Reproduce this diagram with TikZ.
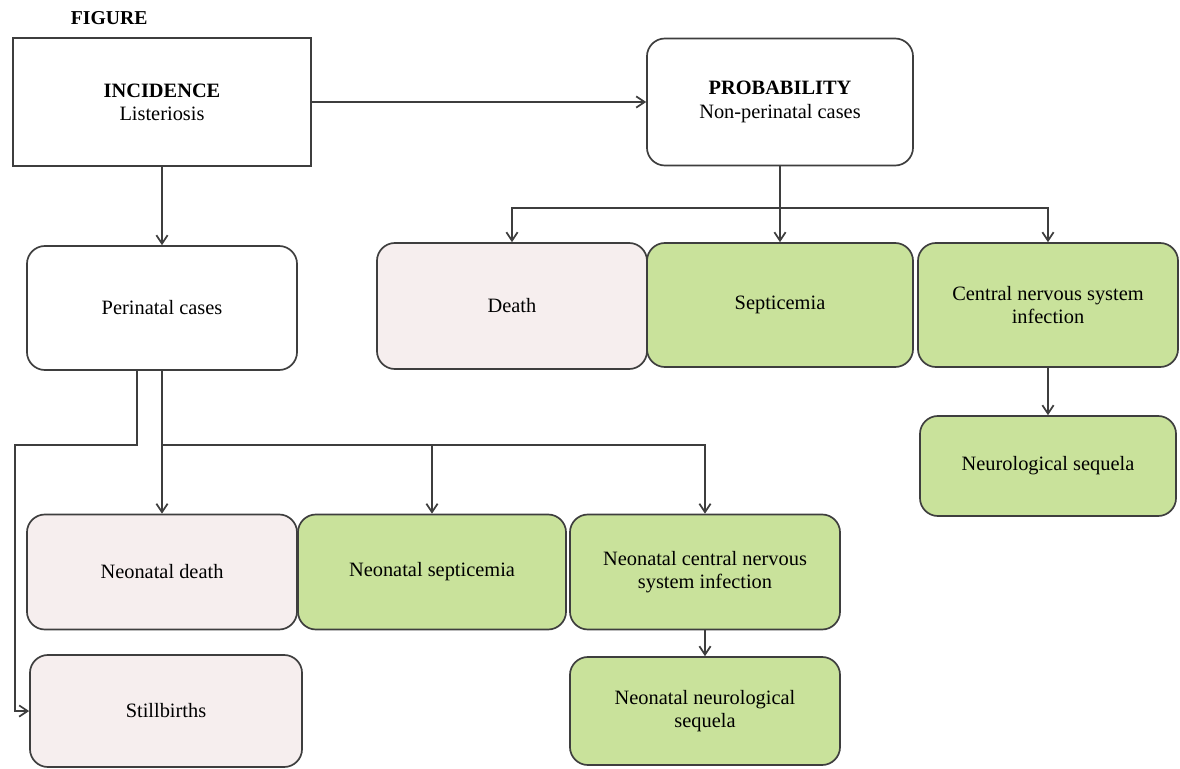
\documentclass[tikz,border=0pt]{standalone}
\usepackage{fontspec}
\setmainfont{Liberation Serif}
\usetikzlibrary{positioning,calc,arrows.meta}
\definecolor{boxline}{RGB}{62,62,62}
\definecolor{boxpink}{RGB}{246,238,238}
\definecolor{boxgreen}{RGB}{201,226,155}
\begin{document}
\begin{tikzpicture}[x=0.025cm,y=-0.025cm,
  box/.style={draw=boxline,line width=1.2pt,rounded corners=0.45cm,align=center,
    font=\fontsize{14.5}{16.5}\selectfont,inner sep=2pt},
  arr/.style={draw=boxline,line width=1.2pt,-{Straight Barb[length=6pt,width=8pt]}},
  ln/.style={draw=boxline,line width=1.2pt}]
\useasboundingbox (0,0) rectangle (1180,769);
\node[font=\fontsize{14}{16}\selectfont\bfseries,anchor=west] (fig) at (66,18) {FIGURE};
% top row
\node[box,rounded corners=0pt,minimum width=7.45cm,minimum height=3.2cm] (inc) at (162,102)
  {\textbf{INCIDENCE}\\Listeriosis};
\node[box,fill=white,minimum width=6.65cm,minimum height=3.175cm] (prob) at (780,102)
  {\textbf{PROBABILITY}\\Non-perinatal cases};
\draw[arr] (inc.east) -- (prob.west);
% non-perinatal outcomes
\node[box,fill=boxpink,minimum width=6.75cm,minimum height=3.15cm] (death) at (512,306) {Death};
\node[box,fill=boxgreen,minimum width=6.65cm,minimum height=3.1cm] (sept) at (780,305) {Septicemia};
\node[box,fill=boxgreen,minimum width=6.5cm,minimum height=3.1cm] (cns) at (1048,305)
  {Central nervous system\\infection};
\node[box,fill=boxgreen,minimum width=6.4cm,minimum height=2.5cm] (neuro) at (1048,466)
  {Neurological sequela};
\coordinate (pj) at (780,208);
\draw[arr] (prob.south) -- (sept.north);
\draw[arr] (pj) -| (death.north);
\draw[arr] (pj) -| (cns.north);
\draw[arr] (cns.south) -- (neuro.north);
% perinatal
\node[box,fill=white,minimum width=6.75cm,minimum height=3.1cm] (peri) at (162,308) {Perinatal cases};
\draw[arr] (inc.south) -- (peri.north);
\node[box,fill=boxpink,minimum width=6.75cm,minimum height=2.875cm] (ndeath) at (162,572) {Neonatal death};
\node[box,fill=boxgreen,minimum width=6.7cm,minimum height=2.875cm] (nsept) at (432,572) {Neonatal septicemia};
\node[box,fill=boxgreen,minimum width=6.75cm,minimum height=2.875cm] (ncns) at (705,572)
  {Neonatal central nervous\\system infection};
\node[box,fill=boxgreen,minimum width=6.75cm,minimum height=2.7cm] (nneuro) at (705,711)
  {Neonatal neurological\\sequela};
\node[box,fill=boxpink,minimum width=6.8cm,minimum height=2.8cm] (still) at (166,711) {Stillbirths};
\coordinate (nj) at (162,445);
\draw[arr] (peri.south) -- (ndeath.north);
\draw[arr] (nj) -| (nsept.north);
\draw[arr] (nj) -| (ncns.north);
\draw[arr] (ncns.south) -- (nneuro.north);
% stillbirths
\coordinate (sa) at (137,370);
\coordinate (sb) at (15,445);
\draw[arr] (sa) |- (sb) |- (still.west);
\end{tikzpicture}
\end{document}
